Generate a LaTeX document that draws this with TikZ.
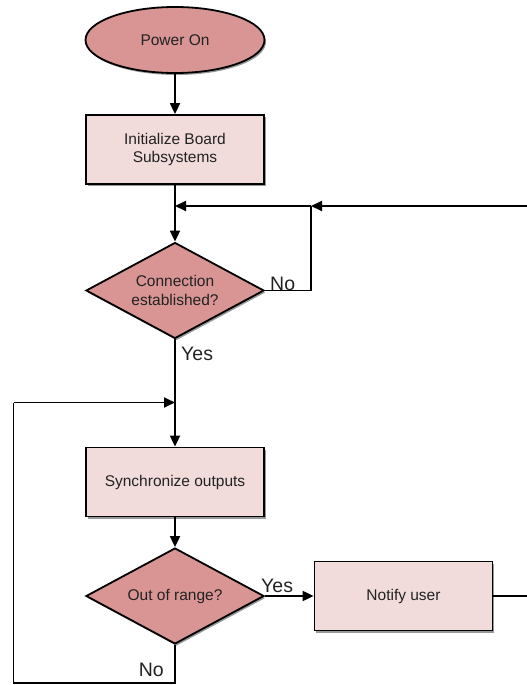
\documentclass[tikz,border=0pt]{standalone}
\usepackage{fontspec}
\setmainfont{Liberation Sans}
\usetikzlibrary{shapes.geometric,arrows.meta,shadows}

\definecolor{termfill}{HTML}{D99594}
\definecolor{procfill}{HTML}{F2DCDB}
\definecolor{txt}{HTML}{222222}

\tikzset{
  x=1pt, y=-1pt,
  every node/.style={text=txt},
  shade/.style={drop shadow={shadow xshift=1.5pt, shadow yshift=-2pt, opacity=0.4, fill=black}},
  terminal/.style={ellipse, draw, line width=1.8pt, fill=termfill, shade,
    minimum width=179pt, minimum height=66pt, inner sep=0pt, font=\fontsize{15.5}{18}\selectfont},
  process/.style={rectangle, draw, line width=1.8pt, fill=procfill, shade,
    minimum width=178pt, minimum height=69pt, inner sep=0pt, align=center,
    font=\fontsize{15.5}{18.5}\selectfont},
  decision/.style={diamond, draw, line width=1.8pt, fill=termfill, shade,
    minimum width=178pt, minimum height=96pt, inner sep=0pt},
  dtext/.style={align=center, font=\fontsize{15.5}{18.5}\selectfont, inner sep=0pt},
  flow/.style={line width=1.8pt, -{Triangle[length=11pt,width=10pt]}},
  link/.style={line width=1.8pt},
  lbl/.style={font=\fontsize{19.5}{22}\selectfont, inner sep=0pt}
}

\begin{document}
\begin{tikzpicture}
  \useasboundingbox (0,0) rectangle (527,685);

  % main column
  \node[terminal] (power) at (175,40) {Power On};
  \node[process] (init) at (175,149.5) {Initialize Board\\Subsystems};
  \node[decision] (conn) at (175,290.5) {};
  \node[dtext] at (conn.center) {Connection\\established?};
  \node[process] (sync) at (175,482) {Synchronize outputs};
  \node[decision] (range) at (175,596) {};
  \node[dtext] at (range.center) {Out of range?};
  \node[process] (notify) at (403.5,596) {Notify user};

  % junction points
  \coordinate (j1) at (175,206);
  \coordinate (j2) at (311,206);
  \coordinate (edgeTop) at (527,206);
  \coordinate (edgeRight) at (527,596);
  \coordinate (j3) at (175,402.5);
  \coordinate (loopBL) at (13.5,683);
  \coordinate (loopTL) at (13.5,402.5);

  % straight flow
  \draw[flow] (power) -- (init);
  \draw[link] (init) -- (j1);
  \draw[flow] (j1) -- (conn.north);
  \draw[link] (conn.south) -- (j3);
  \draw[flow] (j3) -- (sync);
  \draw[flow] (sync) -- (range.north);

  % retry loop for the connection check
  \draw[link] (conn.east) -| (j2);
  \draw[flow] (edgeTop) -- (j2);
  \draw[flow] (j2) -- (j1);

  % out-of-range branches
  \draw[flow] (range.east) -- (notify.west);
  \draw[link] (notify.east) -- (edgeRight);
  \draw[link] (range.south) |- (loopBL) -- (loopTL);
  \draw[flow] (loopTL) -- (j3);

  % branch labels
  \node[lbl, anchor=south west] at (270,291) {No};
  \node[lbl, anchor=north west] at (181,347) {Yes};
  \node[lbl, anchor=south west] at (261,593) {Yes};
  \node[lbl, anchor=south east] at (164,677) {No};
\end{tikzpicture}
\end{document}
